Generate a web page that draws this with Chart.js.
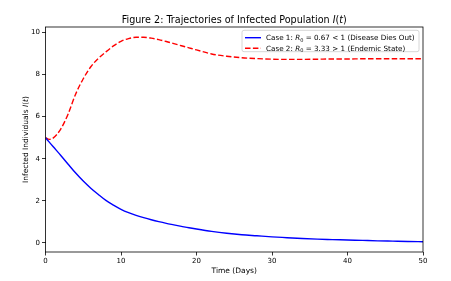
<!DOCTYPE html>
<html>
<head>
<meta charset="utf-8">
<script src="https://cdn.jsdelivr.net/npm/chart.js@4.4.1/dist/chart.umd.min.js"></script>
<style>
  html, body { margin: 0; padding: 0; background: #fff; }
</style>
</head>
<body>
<canvas id="chart" width="451" height="281"></canvas>
<script>
// values
const timeDays = [0, 0.5, 1, 2, 3, 4, 5, 6, 7, 8, 9, 10, 11, 12, 13, 14, 15, 16, 17, 18, 19, 20,
  22, 24, 26, 28, 30, 32, 34, 36, 38, 40, 42, 44, 46, 48, 50];
const case1Infected = [5.00, 4.79, 4.58, 4.17, 3.74, 3.32, 2.94, 2.60, 2.30, 2.02, 1.80, 1.60, 1.44, 1.31, 1.20,
  1.10, 1.01, 0.93, 0.86, 0.79, 0.72, 0.66, 0.55, 0.46, 0.39, 0.34, 0.29, 0.25, 0.21, 0.18, 0.16,
  0.14, 0.12, 0.10, 0.085, 0.07, 0.06];
const case2Infected = [5.00, 4.92, 4.98, 5.40, 6.13, 7.08, 7.80, 8.37, 8.77, 9.08, 9.36, 9.58, 9.71, 9.77, 9.77,
  9.73, 9.66, 9.57, 9.47, 9.37, 9.27, 9.17, 8.98, 8.87, 8.80, 8.76, 8.73, 8.72, 8.72, 8.73, 8.74,
  8.74, 8.75, 8.75, 8.75, 8.75, 8.75];
const xTicks = [0, 10, 20, 30, 40, 50];
const yTicks = [0, 2, 4, 6, 8, 10];

const FONT = '"DejaVu Sans", sans-serif';

const seriesA = [
  { text: 'Case 1: ' }, { text: 'R', it: true }, { text: '0', sub: true },
  { text: ' = 0.67 < 1 (Disease Dies Out)' }
];
const seriesB = [
  { text: 'Case 2: ' }, { text: 'R', it: true }, { text: '0', sub: true },
  { text: ' = 3.33 > 1 (Endemic State)' }
];

function segFont(s, size) {
  return (s.it ? 'italic ' : '') + (s.sub ? size * 0.7 : size) + 'px ' + FONT;
}

// draws a line of text made of plain / italic / subscript pieces
function drawRich(ctx, segs, x, y, size, align) {
  let w = 0;
  segs.forEach(s => { ctx.font = segFont(s, size); s.w = ctx.measureText(s.text).width; w += s.w; });
  let cx = align === 'center' ? x - w / 2 : x;
  ctx.textAlign = 'left';
  ctx.textBaseline = 'alphabetic';
  segs.forEach(s => {
    ctx.font = segFont(s, size);
    ctx.fillText(s.text, cx, s.sub ? y + size * 0.18 : y);
    cx += s.w;
  });
}

const decorPlugin = {
  id: 'decor',
  afterDatasetsDraw(chart) {
    const ctx = chart.ctx;
    const a = chart.chartArea;
    ctx.save();
    // frame
    ctx.strokeStyle = '#000';
    ctx.lineWidth = 0.8;
    ctx.strokeRect(a.left, a.top, a.right - a.left, a.bottom - a.top);

    ctx.fillStyle = '#000';
    drawRich(ctx, [{ text: 'Figure 2: Trajectories of Infected Population ' }, { text: 'I', it: true },
      { text: '(' }, { text: 't', it: true }, { text: ')' }], (a.left + a.right) / 2, 22.5, 9.6, 'center');

    drawRich(ctx, [{ text: 'Time (Days)' }], (a.left + a.right) / 2, 272.5, 7.5, 'center');

    ctx.save();
    ctx.translate(27.5, (a.top + a.bottom) / 2);
    ctx.rotate(-Math.PI / 2);
    drawRich(ctx, [{ text: 'Infected Individuals ' }, { text: 'I', it: true },
      { text: '(' }, { text: 't', it: true }, { text: ')' }], 0, 0, 7.5, 'center');
    ctx.restore();

    // legend
    const lx = 242, ly = 30.3, lw = 177, lh = 21.4;
    ctx.beginPath();
    ctx.roundRect(lx, ly, lw, lh, 2);
    ctx.fillStyle = 'rgba(255,255,255,0.8)';
    ctx.fill();
    ctx.strokeStyle = '#cccccc';
    ctx.lineWidth = 0.8;
    ctx.stroke();

    const rows = [
      { y: 37.7, color: '#0000ff', dash: [], segs: seriesA },
      { y: 48.3, color: '#ff0000', dash: [5.5, 2.4], segs: seriesB }
    ];
    rows.forEach(r => {
      ctx.beginPath();
      ctx.setLineDash(r.dash);
      ctx.strokeStyle = r.color;
      ctx.lineWidth = 1.4;
      ctx.moveTo(245, r.y);
      ctx.lineTo(261, r.y);
      ctx.stroke();
      ctx.setLineDash([]);
      ctx.fillStyle = '#000';
      drawRich(ctx, r.segs, 266, r.y + 2.6, 7.2, 'left');
    });
    ctx.restore();
  }
};

const tickGrid = {
  display: true,
  drawOnChartArea: false,
  drawTicks: true,
  tickLength: 3.5,
  tickWidth: 0.8,
  tickColor: '#000'
};

new Chart(document.getElementById('chart'), {
  type: 'line',
  data: {
    datasets: [
      {
        label: 'Case 1',
        data: timeDays.map((t, i) => ({ x: t, y: case1Infected[i] })),
        borderColor: '#0000ff',
        borderWidth: 1.4,
        pointRadius: 0,
        cubicInterpolationMode: 'monotone',
        fill: false
      },
      {
        label: 'Case 2',
        data: timeDays.map((t, i) => ({ x: t, y: case2Infected[i] })),
        borderColor: '#ff0000',
        borderWidth: 1.4,
        borderDash: [5.5, 2.4],
        pointRadius: 0,
        cubicInterpolationMode: 'monotone',
        fill: false
      }
    ]
  },
  options: {
    responsive: false,
    animation: false,
    devicePixelRatio: 1,
    layout: { padding: { top: 27, right: 28, left: 0, bottom: 0 } },
    plugins: {
      legend: { display: false },
      title: { display: false },
      tooltip: { enabled: false }
    },
    scales: {
      x: {
        type: 'linear',
        min: 0,
        max: 50,
        afterFit(scale) { scale.height = 29; },
        afterBuildTicks(scale) { scale.ticks = xTicks.map(v => ({ value: v })); },
        grid: tickGrid,
        border: { display: false },
        ticks: { color: '#000', padding: 1.5, maxRotation: 0, font: { family: FONT, size: 7 } }
      },
      y: {
        type: 'linear',
        min: -0.43,
        max: 10.26,
        afterFit(scale) { scale.width = 45.5; },
        afterBuildTicks(scale) { scale.ticks = yTicks.map(v => ({ value: v })); },
        grid: tickGrid,
        border: { display: false },
        ticks: { color: '#000', padding: 2, font: { family: FONT, size: 7 } }
      }
    }
  },
  plugins: [decorPlugin]
});
</script>
</body>
</html>
